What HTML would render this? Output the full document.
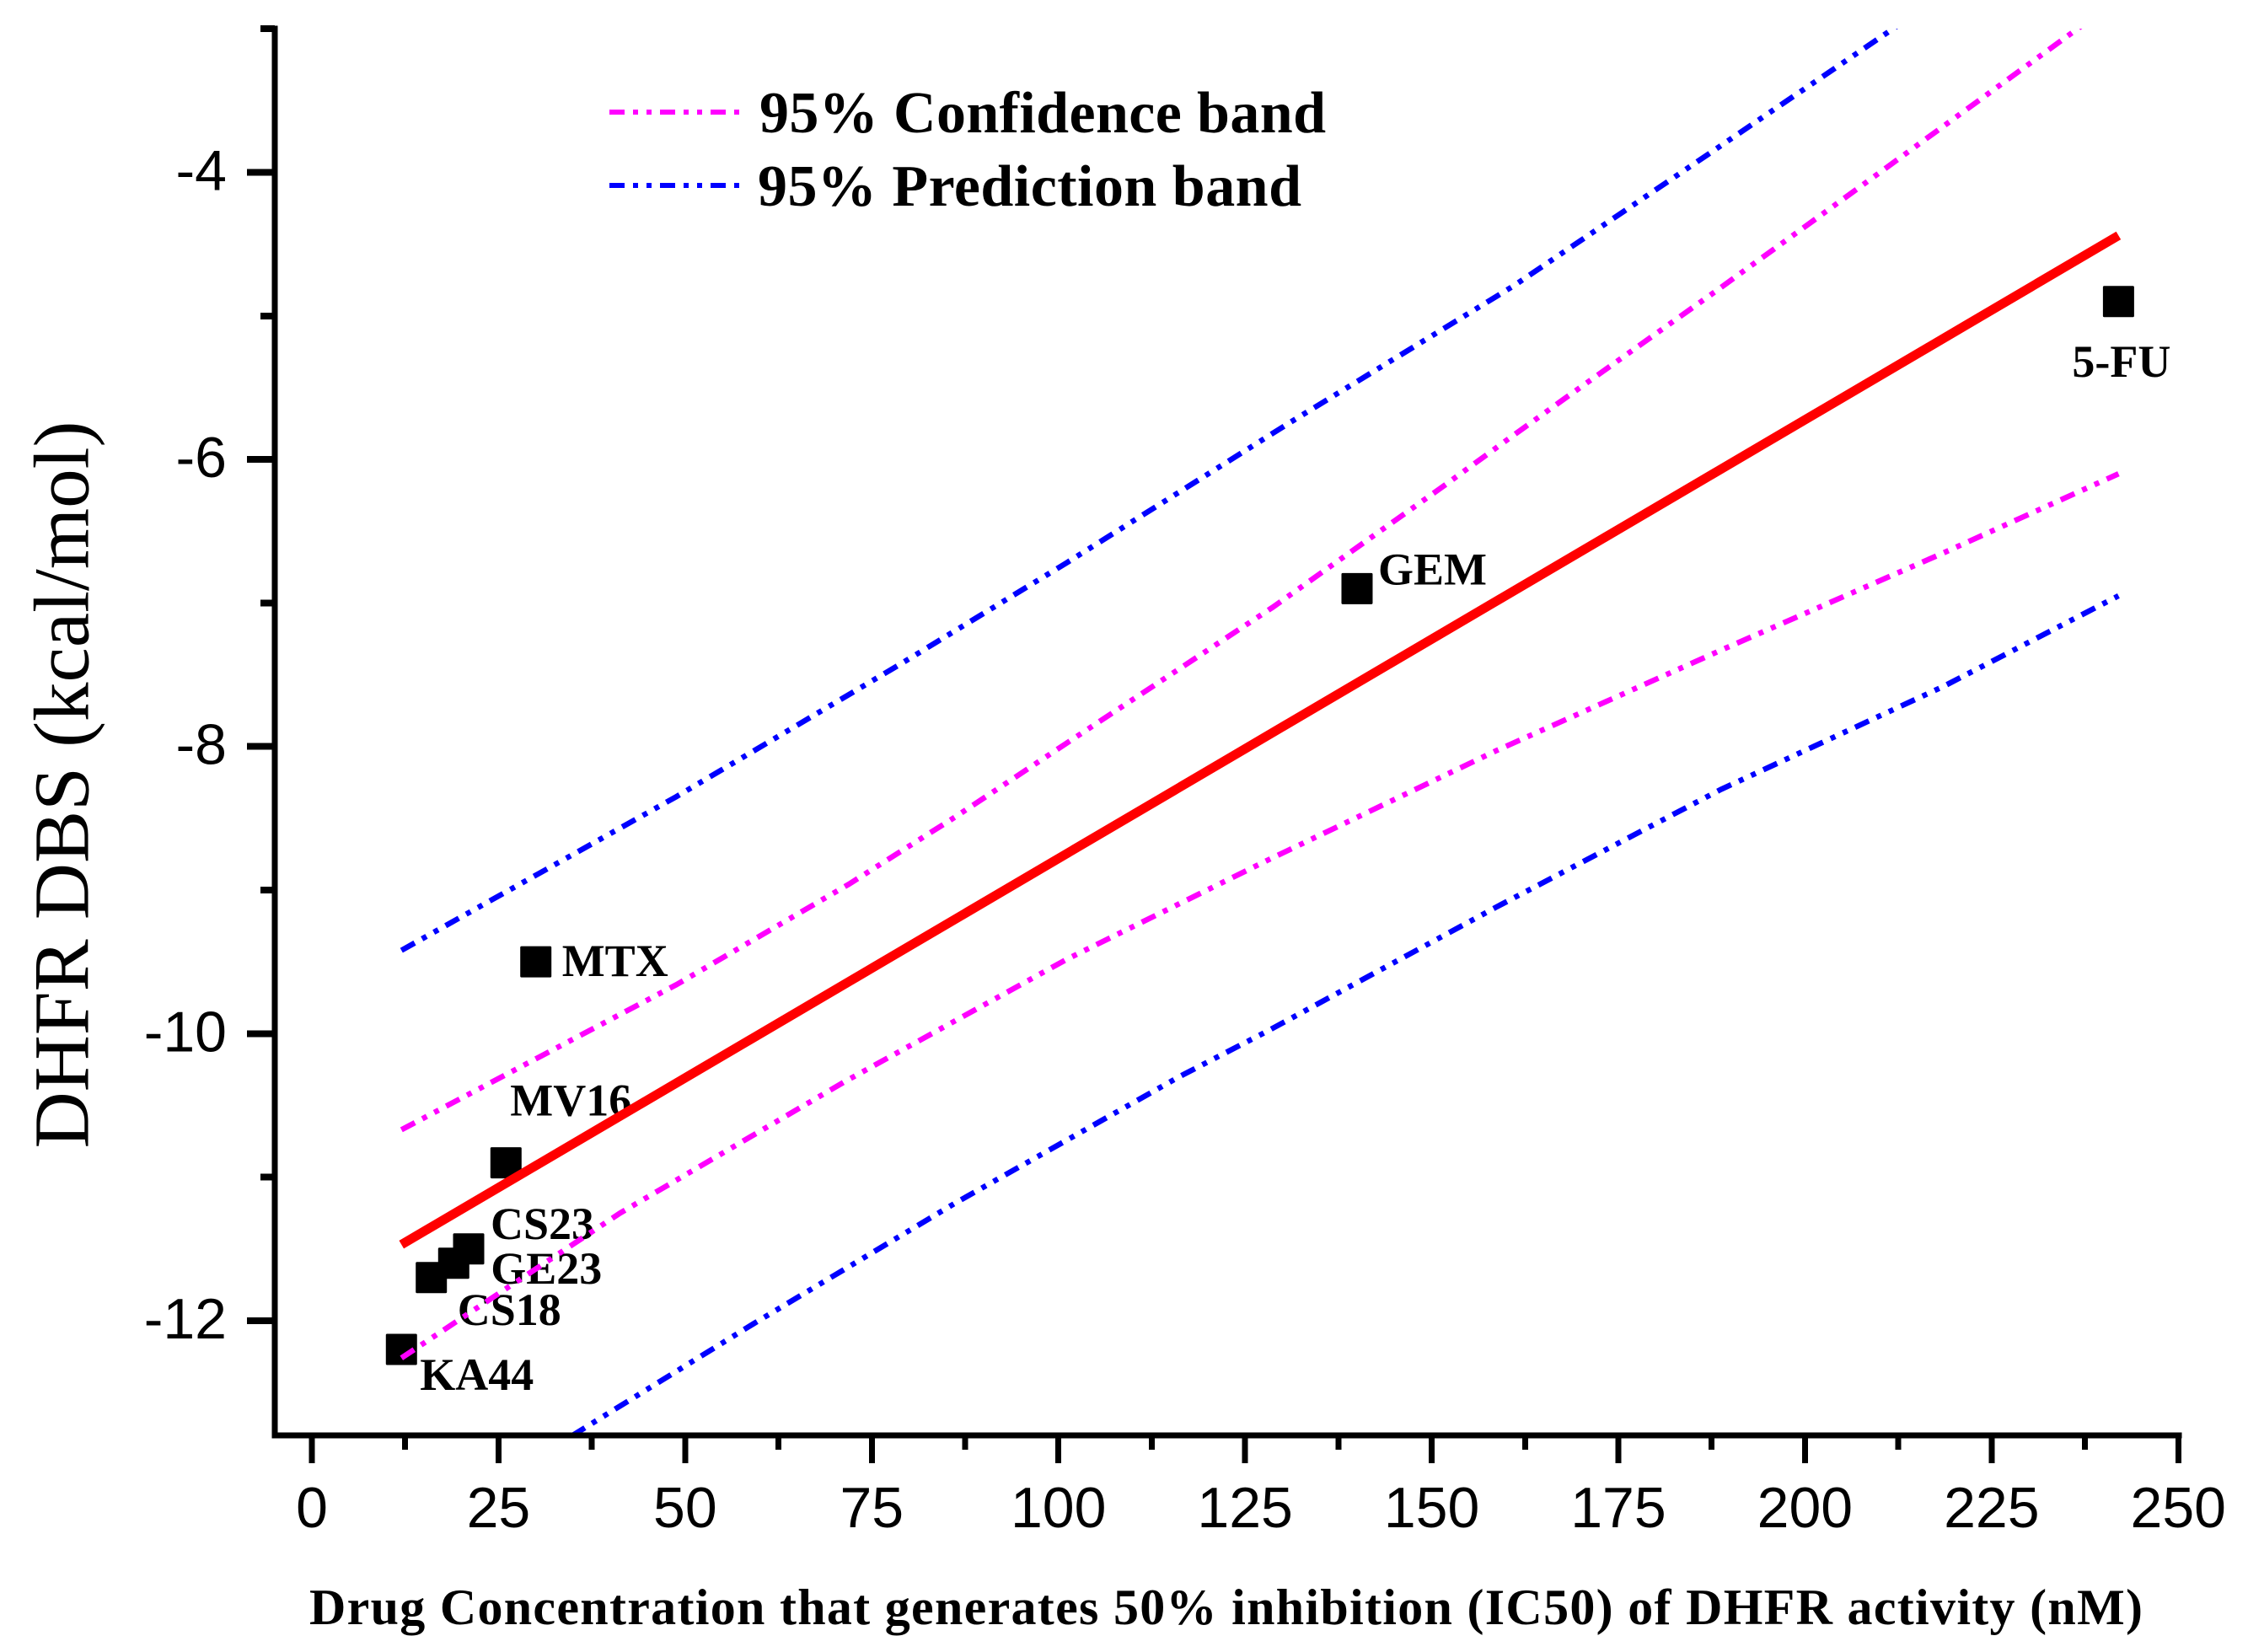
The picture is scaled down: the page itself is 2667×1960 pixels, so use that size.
<!DOCTYPE html>
<html lang="en">
<head>
<meta charset="utf-8">
<title>DHFR DBS vs IC50</title>
<style>
html,body{margin:0;padding:0;background:#fff;}
svg{display:block;}
.tick-text{font-family:"Liberation Sans",Arial,sans-serif;font-size:68px;fill:#000;}
.point-text{font-family:"Liberation Serif","Times New Roman",serif;font-weight:bold;font-size:54px;fill:#000;}
.legend-text{font-family:"Liberation Serif","Times New Roman",serif;font-weight:bold;font-size:70px;fill:#000;}
</style>
</head>
<body>
<svg id="chart" xmlns="http://www.w3.org/2000/svg" width="2667" height="1960" viewBox="0 0 2667 1960">
  <defs>
    <clipPath id="plot-clip"><rect x="326" y="34" width="2274" height="1669"></rect></clipPath>
  </defs>
  <rect x="0" y="0" width="2667" height="1960" fill="#fff"></rect>
  <g id="markers"></g>
  <g id="labels"></g>
  <g id="lines" clip-path="url(#plot-clip)" fill="none"></g>
  <g id="axes"></g>

  <g>
    <line x1="723" y1="133" x2="878" y2="133" stroke="#ff00ff" stroke-width="6" stroke-dasharray="18 10 6 10 6 10" shape-rendering="crispEdges"></line>
    <text class="legend-text" x="901" y="157" textLength="672" lengthAdjust="spacing">95% Confidence band</text>
    <line x1="723" y1="220" x2="878" y2="220" stroke="#0000ff" stroke-width="6" stroke-dasharray="18 10 6 10 6 10" shape-rendering="crispEdges"></line>
    <text class="legend-text" x="899" y="244" textLength="645" lengthAdjust="spacing">95% Prediction band</text>
  </g>

  <text transform="translate(104.5 931) rotate(-90)" text-anchor="middle" font-family="'Liberation Serif','Times New Roman',serif" font-size="93" fill="#000">DHFR DBS (kcal/mol)</text>
  <text x="367" y="1927" font-family="'Liberation Serif','Times New Roman',serif" font-weight="bold" font-size="60" fill="#000" textLength="2175" lengthAdjust="spacing">Drug Concentration that generates 50% inhibition (IC50) of DHFR activity (nM)</text>
</svg>

<script>
var pointNames = ['KA44', 'CS18', 'GE23', 'CS23', 'MV16', 'MTX', 'GEM', '5-FU'];
var pointX = [12, 16, 19, 21, 26, 30, 140, 242];
var pointY = [-12.2, -11.7, -11.6, -11.5, -10.9, -9.5, -6.9, -4.9];

var fitX = [12, 242];
var fitY = [-11.47, -4.44];

var confUpperX = [12, 48.8, 71.9, 86.2, 101, 128.7, 151.2, 161, 167.7, 179.6, 188, 206.6, 236.5, 242];
var confUpperY = [-10.67, -9.66, -8.96, -8.49, -7.98, -7.03, -6.20, -5.83, -5.58, -5.14, -4.83, -4.13, -3.0, -2.79];
var confLowerX = [12, 41.3, 71.2, 101.2, 128.1, 158.6, 188.7, 218.6, 242];
var confLowerY = [-12.26, -11.25, -10.34, -9.48, -8.79, -8.03, -7.33, -6.65, -6.1];
var predUpperX = [12, 48.8, 78.7, 101.1, 131.1, 161, 188, 211.5, 242];
var predUpperY = [-9.42, -8.35, -7.43, -6.72, -5.74, -4.79, -3.84, -3.01, -1.93];
var predLowerX = [12, 35.2, 59.2, 86.2, 116.2, 128.1, 158.6, 188.7, 218.6, 242];
var predLowerY = [-13.56, -12.79, -12.02, -11.18, -10.30, -9.98, -9.12, -8.30, -7.58, -6.95];

var xMajorTicks = [0, 25, 50, 75, 100, 125, 150, 175, 200, 225, 250];
var xMinorTicks = [12.5, 37.5, 62.5, 87.5, 112.5, 137.5, 162.5, 187.5, 212.5, 237.5];
var yMajorTicks = [-12, -10, -8, -6, -4];
var yMinorTicks = [-11, -9, -7, -5, -3];

var SVG_NS = 'http://www.w3.org/2000/svg';

function xScale(v) { return 370 + (v - 0) * 8.857; }
function yScale(v) { return 204.5 + (-4 - v) * 170.3; }

function make(tag, attrs, parent) {
  var el = document.createElementNS(SVG_NS, tag);
  for (var k in attrs) { el.setAttribute(k, attrs[k]); }
  parent.appendChild(el);
  return el;
}

function pathFrom(xs, ys) {
  var d = '';
  for (var i = 0; i < xs.length; i++) {
    d += (i === 0 ? 'M' : 'L') + xScale(xs[i]).toFixed(2) + ' ' + yScale(ys[i]).toFixed(2);
  }
  return d;
}

var markers = document.getElementById('markers');
var labels = document.getElementById('labels');
var lines = document.getElementById('lines');
var axes = document.getElementById('axes');

/* Label offsets from each marker's centre, in px */
var labelDx = [22, 31, 44, 26, 5, 31, 25, -55];
var labelDy = [48, 56, 24, -12, -56, 17, -5, 89];

pointNames.forEach(function (name, i) {
  var size = 37;
  var r = make('rect', {
    x: xScale(pointX[i]) - size / 2,
    y: yScale(pointY[i]) - size / 2,
    width: size, height: size, rx: 1.5, fill: '#000'
  }, markers);
  
  

  var t = make('text', {
    x: xScale(pointX[i]) + labelDx[i],
    y: yScale(pointY[i]) + labelDy[i],
    'class': 'point-text'
  }, labels);
  t.textContent = name;
  
  
});

var dash = '18 10 6 10 6 10';

var p1 = make('path', { d: pathFrom(confUpperX, confUpperY), stroke: '#ff00ff', 'stroke-width': 6.5, 'stroke-dasharray': dash }, lines);



var p2 = make('path', { d: pathFrom(confLowerX, confLowerY), stroke: '#ff00ff', 'stroke-width': 6.5, 'stroke-dasharray': dash }, lines);



var p3 = make('path', { d: pathFrom(predUpperX, predUpperY), stroke: '#0000ff', 'stroke-width': 6.5, 'stroke-dasharray': dash }, lines);



var p4 = make('path', { d: pathFrom(predLowerX, predLowerY), stroke: '#0000ff', 'stroke-width': 6.5, 'stroke-dasharray': dash }, lines);



var p5 = make('path', { d: pathFrom(fitX, fitY), stroke: '#ff0000', 'stroke-width': 11 }, lines);



var yAxisLine = make('line', { x1: 326, y1: 30.5, x2: 326, y2: 1706, stroke: '#000', 'stroke-width': 7, 'shape-rendering': 'crispEdges' }, axes);



var xAxisLine = make('line', { x1: 322.5, y1: 1703, x2: 2588.5, y2: 1703, stroke: '#000', 'stroke-width': 7, 'shape-rendering': 'crispEdges' }, axes);



xMajorTicks.forEach(function (v) {
  var tick = make('line', { x1: xScale(v), y1: 1703, x2: xScale(v), y2: 1736, stroke: '#000', 'stroke-width': 7, 'shape-rendering': 'crispEdges' }, axes);
  
  
  var t = make('text', { x: xScale(v), y: 1812, 'text-anchor': 'middle', 'class': 'tick-text' }, axes);
  t.textContent = String(v);
  
  
});

xMinorTicks.forEach(function (v) {
  var tick = make('line', { x1: xScale(v), y1: 1703, x2: xScale(v), y2: 1720, stroke: '#000', 'stroke-width': 7, 'shape-rendering': 'crispEdges' }, axes);
  
  
});

yMajorTicks.forEach(function (v) {
  var tick = make('line', { x1: 293, y1: yScale(v), x2: 326, y2: yScale(v), stroke: '#000', 'stroke-width': 8, 'shape-rendering': 'crispEdges' }, axes);
  
  
  var t = make('text', { x: 269, y: yScale(v) + 21, 'text-anchor': 'end', 'class': 'tick-text' }, axes);
  t.textContent = String(v);
  
  
});

yMinorTicks.forEach(function (v) {
  var tick = make('line', { x1: 309, y1: yScale(v), x2: 326, y2: yScale(v), stroke: '#000', 'stroke-width': 8, 'shape-rendering': 'crispEdges' }, axes);
  
  
});
</script>
</body>
</html>
